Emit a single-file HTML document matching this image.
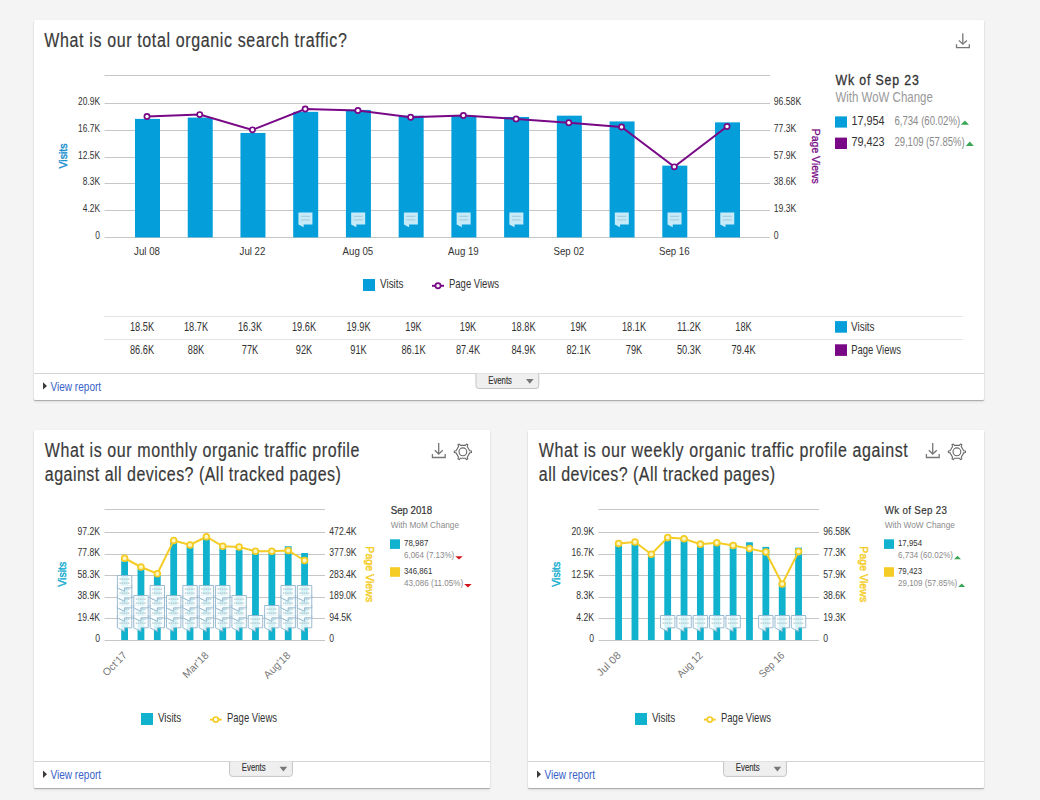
<!DOCTYPE html><html><head><meta charset="utf-8"><style>
html,body{margin:0;padding:0;background:#f4f4f4;width:1040px;height:800px;overflow:hidden}
.card{position:absolute;background:#fff;border-radius:1px;box-shadow:0 1px 1px rgba(0,0,0,0.26),0 2px 3px rgba(0,0,0,0.07),0 0 1px rgba(0,0,0,0.12)}
svg{position:absolute;left:0;top:0;font-family:"Liberation Sans", sans-serif}
</style></head><body>
<div class="card" style="left:34px;top:20px;width:950px;height:380px"></div>
<div class="card" style="left:34px;top:430px;width:456px;height:358px"></div>
<div class="card" style="left:528px;top:430px;width:456px;height:358px"></div>
<svg width="1040" height="800" viewBox="0 0 1040 800">
<text transform="translate(44.30,47.00) scale(0.8,1)" x="0" y="0" font-size="20" fill="#3a3a3a" font-weight="normal" stroke="#3a3a3a" stroke-width="0.2" textLength="378.12" lengthAdjust="spacing">What is our total organic search traffic?</text>
<g transform="translate(956.0,33.2) scale(1.0)" fill="none" stroke="#777" stroke-width="1.3"><path d="M6.8 0 V10.8"/><path d="M2.9 7.2 L6.8 11 L10.9 7.2"/><path d="M0.5 11.0 V14.5 H13.3 V11.0"/></g>
<line x1="104.5" y1="75.5" x2="770.0" y2="75.5" stroke="#c6c6c6" stroke-width="1"/>
<line x1="104.5" y1="237.5" x2="770.0" y2="237.5" stroke="#c6c6c6" stroke-width="1"/>
<text x="95.33" y="239.00" font-size="11.5" fill="#333" font-weight="normal" textLength="4.67" lengthAdjust="spacingAndGlyphs">0</text>
<text x="773.80" y="239.00" font-size="11.5" fill="#333" font-weight="normal" textLength="4.80" lengthAdjust="spacingAndGlyphs">0</text>
<line x1="104.5" y1="210.5" x2="770.0" y2="210.5" stroke="#c6c6c6" stroke-width="1"/>
<text x="82.73" y="212.22" font-size="11.5" fill="#333" font-weight="normal" textLength="17.27" lengthAdjust="spacingAndGlyphs">4.2K</text>
<text x="773.80" y="212.22" font-size="11.5" fill="#333" font-weight="normal" textLength="22.54" lengthAdjust="spacingAndGlyphs">19.3K</text>
<line x1="104.5" y1="183.5" x2="770.0" y2="183.5" stroke="#c6c6c6" stroke-width="1"/>
<text x="82.73" y="185.44" font-size="11.5" fill="#333" font-weight="normal" textLength="17.27" lengthAdjust="spacingAndGlyphs">8.3K</text>
<text x="773.80" y="185.44" font-size="11.5" fill="#333" font-weight="normal" textLength="22.54" lengthAdjust="spacingAndGlyphs">38.6K</text>
<line x1="104.5" y1="157.5" x2="770.0" y2="157.5" stroke="#c6c6c6" stroke-width="1"/>
<text x="78.06" y="158.66" font-size="11.5" fill="#333" font-weight="normal" textLength="21.94" lengthAdjust="spacingAndGlyphs">12.5K</text>
<text x="773.80" y="158.66" font-size="11.5" fill="#333" font-weight="normal" textLength="22.54" lengthAdjust="spacingAndGlyphs">57.9K</text>
<line x1="104.5" y1="130.5" x2="770.0" y2="130.5" stroke="#c6c6c6" stroke-width="1"/>
<text x="78.06" y="131.88" font-size="11.5" fill="#333" font-weight="normal" textLength="21.94" lengthAdjust="spacingAndGlyphs">16.7K</text>
<text x="773.80" y="131.88" font-size="11.5" fill="#333" font-weight="normal" textLength="22.54" lengthAdjust="spacingAndGlyphs">77.3K</text>
<line x1="104.5" y1="103.5" x2="770.0" y2="103.5" stroke="#c6c6c6" stroke-width="1"/>
<text x="78.06" y="105.10" font-size="11.5" fill="#333" font-weight="normal" textLength="21.94" lengthAdjust="spacingAndGlyphs">20.9K</text>
<text x="773.80" y="105.10" font-size="11.5" fill="#333" font-weight="normal" textLength="27.34" lengthAdjust="spacingAndGlyphs">96.58K</text>
<rect x="135.00" y="118.88" width="25" height="118.52" fill="#049edb"/>
<rect x="187.73" y="117.59" width="25" height="119.81" fill="#049edb"/>
<rect x="240.46" y="132.97" width="25" height="104.43" fill="#049edb"/>
<rect x="293.19" y="111.83" width="25" height="125.57" fill="#049edb"/>
<rect x="345.92" y="109.91" width="25" height="127.49" fill="#049edb"/>
<rect x="398.65" y="115.67" width="25" height="121.73" fill="#049edb"/>
<rect x="451.38" y="115.67" width="25" height="121.73" fill="#049edb"/>
<rect x="504.11" y="116.95" width="25" height="120.45" fill="#049edb"/>
<rect x="556.84" y="115.67" width="25" height="121.73" fill="#049edb"/>
<rect x="609.57" y="121.44" width="25" height="115.96" fill="#049edb"/>
<rect x="662.30" y="165.64" width="25" height="71.76" fill="#049edb"/>
<rect x="715.03" y="122.37" width="25" height="115.03" fill="#049edb"/>
<g opacity="1.0"><path d="M298.44 212.5 h14 v12 h-8.8 v2.8 l-5.2 -2.8 z" fill="#c6eaf8"/><path d="M300.94 216.34 h9 M300.94 219.94 h9" stroke="#a9cfe0" stroke-width="1.2"/></g>
<g opacity="1.0"><path d="M351.16999999999996 212.5 h14 v12 h-8.8 v2.8 l-5.2 -2.8 z" fill="#c6eaf8"/><path d="M353.66999999999996 216.34 h9 M353.66999999999996 219.94 h9" stroke="#a9cfe0" stroke-width="1.2"/></g>
<g opacity="1.0"><path d="M403.9 212.5 h14 v12 h-8.8 v2.8 l-5.2 -2.8 z" fill="#c6eaf8"/><path d="M406.4 216.34 h9 M406.4 219.94 h9" stroke="#a9cfe0" stroke-width="1.2"/></g>
<g opacity="1.0"><path d="M456.63 212.5 h14 v12 h-8.8 v2.8 l-5.2 -2.8 z" fill="#c6eaf8"/><path d="M459.13 216.34 h9 M459.13 219.94 h9" stroke="#a9cfe0" stroke-width="1.2"/></g>
<g opacity="1.0"><path d="M509.3599999999999 212.5 h14 v12 h-8.8 v2.8 l-5.2 -2.8 z" fill="#c6eaf8"/><path d="M511.8599999999999 216.34 h9 M511.8599999999999 219.94 h9" stroke="#a9cfe0" stroke-width="1.2"/></g>
<g opacity="1.0"><path d="M614.8199999999999 212.5 h14 v12 h-8.8 v2.8 l-5.2 -2.8 z" fill="#c6eaf8"/><path d="M617.3199999999999 216.34 h9 M617.3199999999999 219.94 h9" stroke="#a9cfe0" stroke-width="1.2"/></g>
<g opacity="1.0"><path d="M667.55 212.5 h14 v12 h-8.8 v2.8 l-5.2 -2.8 z" fill="#c6eaf8"/><path d="M670.05 216.34 h9 M670.05 219.94 h9" stroke="#a9cfe0" stroke-width="1.2"/></g>
<g opacity="1.0"><path d="M720.28 212.5 h14 v12 h-8.8 v2.8 l-5.2 -2.8 z" fill="#c6eaf8"/><path d="M722.78 216.34 h9 M722.78 219.94 h9" stroke="#a9cfe0" stroke-width="1.2"/></g>
<polyline points="147.00,116.54 199.73,114.60 252.46,129.85 305.19,109.05 357.92,110.44 410.65,117.23 463.38,115.43 516.11,118.89 568.84,122.78 621.57,127.07 674.30,166.86 727.03,126.52" fill="none" stroke="#780886" stroke-width="2"/>
<circle cx="147.00" cy="116.54" r="2.6" fill="#fff" stroke="#780886" stroke-width="1.7"/>
<circle cx="199.73" cy="114.60" r="2.6" fill="#fff" stroke="#780886" stroke-width="1.7"/>
<circle cx="252.46" cy="129.85" r="2.6" fill="#fff" stroke="#780886" stroke-width="1.7"/>
<circle cx="305.19" cy="109.05" r="2.6" fill="#fff" stroke="#780886" stroke-width="1.7"/>
<circle cx="357.92" cy="110.44" r="2.6" fill="#fff" stroke="#780886" stroke-width="1.7"/>
<circle cx="410.65" cy="117.23" r="2.6" fill="#fff" stroke="#780886" stroke-width="1.7"/>
<circle cx="463.38" cy="115.43" r="2.6" fill="#fff" stroke="#780886" stroke-width="1.7"/>
<circle cx="516.11" cy="118.89" r="2.6" fill="#fff" stroke="#780886" stroke-width="1.7"/>
<circle cx="568.84" cy="122.78" r="2.6" fill="#fff" stroke="#780886" stroke-width="1.7"/>
<circle cx="621.57" cy="127.07" r="2.6" fill="#fff" stroke="#780886" stroke-width="1.7"/>
<circle cx="674.30" cy="166.86" r="2.6" fill="#fff" stroke="#780886" stroke-width="1.7"/>
<circle cx="727.03" cy="126.52" r="2.6" fill="#fff" stroke="#780886" stroke-width="1.7"/>
<g transform="translate(66.5,156) rotate(-90)"><text x="-12.50" y="0.00" font-size="11.5" fill="#2090d0" font-weight="normal" stroke="#2090d0" stroke-width="0.45" textLength="25.00" lengthAdjust="spacingAndGlyphs">Visits</text></g>
<g transform="translate(811.5,156.3) rotate(90)"><text x="-27.50" y="0.00" font-size="11.5" fill="#780886" font-weight="normal" stroke="#780886" stroke-width="0.3" textLength="55.00" lengthAdjust="spacingAndGlyphs">Page Views</text></g>
<text x="134.09" y="254.60" font-size="11.8" fill="#333" font-weight="normal" textLength="25.82" lengthAdjust="spacingAndGlyphs">Jul 08</text>
<text x="239.55" y="254.60" font-size="11.8" fill="#333" font-weight="normal" textLength="25.82" lengthAdjust="spacingAndGlyphs">Jul 22</text>
<text x="342.59" y="254.60" font-size="11.8" fill="#333" font-weight="normal" textLength="30.67" lengthAdjust="spacingAndGlyphs">Aug 05</text>
<text x="448.05" y="254.60" font-size="11.8" fill="#333" font-weight="normal" textLength="30.67" lengthAdjust="spacingAndGlyphs">Aug 19</text>
<text x="553.51" y="254.60" font-size="11.8" fill="#333" font-weight="normal" textLength="30.67" lengthAdjust="spacingAndGlyphs">Sep 02</text>
<text x="658.97" y="254.60" font-size="11.8" fill="#333" font-weight="normal" textLength="30.67" lengthAdjust="spacingAndGlyphs">Sep 16</text>
<rect x="363" y="279" width="12" height="12" fill="#049edb"/>
<text x="380.00" y="288.20" font-size="12.2" fill="#333" font-weight="normal" textLength="23.50" lengthAdjust="spacingAndGlyphs">Visits</text>
<line x1="432" y1="285.8" x2="444" y2="285.8" stroke="#780886" stroke-width="2"/>
<circle cx="438" cy="285.8" r="2.6" fill="#fff" stroke="#780886" stroke-width="1.7"/>
<text x="449.00" y="288.20" font-size="12.2" fill="#333" font-weight="normal" textLength="50.00" lengthAdjust="spacingAndGlyphs">Page Views</text>
<line x1="104" y1="316.5" x2="963" y2="316.5" stroke="#e2e2e2" stroke-width="1"/>
<line x1="104" y1="339.5" x2="963" y2="339.5" stroke="#e2e2e2" stroke-width="1"/>
<text x="129.96" y="331.20" font-size="12.8" fill="#333" font-weight="normal" textLength="24.08" lengthAdjust="spacingAndGlyphs">18.5K</text>
<text x="129.96" y="354.00" font-size="12.8" fill="#333" font-weight="normal" textLength="24.08" lengthAdjust="spacingAndGlyphs">86.6K</text>
<text x="183.96" y="331.20" font-size="12.8" fill="#333" font-weight="normal" textLength="24.08" lengthAdjust="spacingAndGlyphs">18.7K</text>
<text x="187.80" y="354.00" font-size="12.8" fill="#333" font-weight="normal" textLength="16.40" lengthAdjust="spacingAndGlyphs">88K</text>
<text x="237.96" y="331.20" font-size="12.8" fill="#333" font-weight="normal" textLength="24.08" lengthAdjust="spacingAndGlyphs">16.3K</text>
<text x="241.80" y="354.00" font-size="12.8" fill="#333" font-weight="normal" textLength="16.40" lengthAdjust="spacingAndGlyphs">77K</text>
<text x="291.96" y="331.20" font-size="12.8" fill="#333" font-weight="normal" textLength="24.08" lengthAdjust="spacingAndGlyphs">19.6K</text>
<text x="295.80" y="354.00" font-size="12.8" fill="#333" font-weight="normal" textLength="16.40" lengthAdjust="spacingAndGlyphs">92K</text>
<text x="346.46" y="331.20" font-size="12.8" fill="#333" font-weight="normal" textLength="24.08" lengthAdjust="spacingAndGlyphs">19.9K</text>
<text x="350.30" y="354.00" font-size="12.8" fill="#333" font-weight="normal" textLength="16.40" lengthAdjust="spacingAndGlyphs">91K</text>
<text x="405.30" y="331.20" font-size="12.8" fill="#333" font-weight="normal" textLength="16.40" lengthAdjust="spacingAndGlyphs">19K</text>
<text x="401.46" y="354.00" font-size="12.8" fill="#333" font-weight="normal" textLength="24.08" lengthAdjust="spacingAndGlyphs">86.1K</text>
<text x="459.80" y="331.20" font-size="12.8" fill="#333" font-weight="normal" textLength="16.40" lengthAdjust="spacingAndGlyphs">19K</text>
<text x="455.96" y="354.00" font-size="12.8" fill="#333" font-weight="normal" textLength="24.08" lengthAdjust="spacingAndGlyphs">87.4K</text>
<text x="511.46" y="331.20" font-size="12.8" fill="#333" font-weight="normal" textLength="24.08" lengthAdjust="spacingAndGlyphs">18.8K</text>
<text x="511.46" y="354.00" font-size="12.8" fill="#333" font-weight="normal" textLength="24.08" lengthAdjust="spacingAndGlyphs">84.9K</text>
<text x="570.30" y="331.20" font-size="12.8" fill="#333" font-weight="normal" textLength="16.40" lengthAdjust="spacingAndGlyphs">19K</text>
<text x="566.46" y="354.00" font-size="12.8" fill="#333" font-weight="normal" textLength="24.08" lengthAdjust="spacingAndGlyphs">82.1K</text>
<text x="621.96" y="331.20" font-size="12.8" fill="#333" font-weight="normal" textLength="24.08" lengthAdjust="spacingAndGlyphs">18.1K</text>
<text x="625.80" y="354.00" font-size="12.8" fill="#333" font-weight="normal" textLength="16.40" lengthAdjust="spacingAndGlyphs">79K</text>
<text x="676.96" y="331.20" font-size="12.8" fill="#333" font-weight="normal" textLength="24.08" lengthAdjust="spacingAndGlyphs">11.2K</text>
<text x="676.96" y="354.00" font-size="12.8" fill="#333" font-weight="normal" textLength="24.08" lengthAdjust="spacingAndGlyphs">50.3K</text>
<text x="735.30" y="331.20" font-size="12.8" fill="#333" font-weight="normal" textLength="16.40" lengthAdjust="spacingAndGlyphs">18K</text>
<text x="731.46" y="354.00" font-size="12.8" fill="#333" font-weight="normal" textLength="24.08" lengthAdjust="spacingAndGlyphs">79.4K</text>
<rect x="835" y="321.1" width="12" height="11.6" fill="#049edb"/>
<text x="851.00" y="330.80" font-size="13" fill="#333" font-weight="normal" textLength="23.60" lengthAdjust="spacingAndGlyphs">Visits</text>
<rect x="835" y="344.3" width="12" height="11.6" fill="#780886"/>
<text x="851.30" y="354.00" font-size="13" fill="#333" font-weight="normal" textLength="49.60" lengthAdjust="spacingAndGlyphs">Page Views</text>
<text transform="translate(835.50,84.50) scale(0.85,1)" x="0" y="0" font-size="14.5" fill="#333" font-weight="normal" stroke="#333" stroke-width="0.3" textLength="98.12" lengthAdjust="spacing">Wk of Sep 23</text>
<text x="835.50" y="101.70" font-size="14.5" fill="#999" font-weight="normal" textLength="97.30" lengthAdjust="spacingAndGlyphs">With WoW Change</text>
<rect x="835" y="116.4" width="12" height="11.2" fill="#049edb"/>
<text x="851.40" y="124.80" font-size="13" fill="#333" font-weight="normal" textLength="33.20" lengthAdjust="spacingAndGlyphs">17,954</text>
<text x="894.40" y="124.80" font-size="12" fill="#8a8a8a" font-weight="normal" textLength="65.80" lengthAdjust="spacingAndGlyphs">6,734 (60.02%)</text>
<path d="M960.8 124.8 L964.9 120.4 L969.0 124.8 Z" fill="#3aa655"/>
<rect x="835" y="137.6" width="12" height="11.4" fill="#780886"/>
<text x="851.40" y="146.00" font-size="13" fill="#333" font-weight="normal" textLength="33.20" lengthAdjust="spacingAndGlyphs">79,423</text>
<text x="894.40" y="146.00" font-size="12" fill="#8a8a8a" font-weight="normal" textLength="70.30" lengthAdjust="spacingAndGlyphs">29,109 (57.85%)</text>
<path d="M965.8 146.0 L969.8 141.6 L973.8 146.0 Z" fill="#3aa655"/>
<line x1="34" y1="373.5" x2="984" y2="373.5" stroke="#d4d4d4" stroke-width="1"/>
<path d="M43.0 382.2 L47.0 385.9 L43.0 389.6 Z" fill="#3a3a3a"/><text x="50.50" y="390.50" font-size="12.5" fill="#3862c8" font-weight="normal" textLength="50.60" lengthAdjust="spacingAndGlyphs">View report</text>
<path d="M476.0 373.5 V385.7 Q476.0 388.5 478.8 388.5 H536.0 Q538.8 388.5 538.8 385.7 V373.5" fill="#efefef" stroke="#c4c4c4" stroke-width="1"/><text x="488.20" y="383.50" font-size="10.2" fill="#333" font-weight="normal" stroke="#333" stroke-width="0.15" textLength="23.80" lengthAdjust="spacingAndGlyphs">Events</text><path d="M526.0 378.9 H533.6 L529.8 383.7 Z" fill="#777"/>
<text transform="translate(44.80,456.70) scale(0.8,1)" x="0" y="0" font-size="20" fill="#3a3a3a" font-weight="normal" stroke="#3a3a3a" stroke-width="0.2" textLength="393.25" lengthAdjust="spacing">What is our monthly organic traffic profile</text>
<text transform="translate(44.80,481.00) scale(0.8,1)" x="0" y="0" font-size="20" fill="#3a3a3a" font-weight="normal" stroke="#3a3a3a" stroke-width="0.2" textLength="370.12" lengthAdjust="spacing">against all devices? (All tracked pages)</text>
<g transform="translate(431.9,443.0) scale(1.0)" fill="none" stroke="#777" stroke-width="1.3"><path d="M6.8 0 V10.8"/><path d="M2.9 7.2 L6.8 11 L10.9 7.2"/><path d="M0.5 11.0 V14.5 H13.3 V11.0"/></g>
<g fill="none" stroke="#666" stroke-width="1.1" stroke-linejoin="round"><path d="M471.47 451.05 L471.47 452.55 L469.72 452.88 L467.24 457.16 L467.83 458.84 L466.53 459.59 L465.37 458.24 L460.43 458.24 L459.27 459.59 L457.97 458.84 L458.56 457.16 L456.08 452.88 L454.33 452.55 L454.33 451.05 L456.08 450.72 L458.56 446.44 L457.97 444.76 L459.27 444.01 L460.43 445.36 L465.37 445.36 L466.53 444.01 L467.83 444.76 L467.24 446.44 L469.72 450.72 Z"/><circle cx="462.9" cy="451.8" r="3.9"/></g>
<line x1="104.5" y1="509.5" x2="325.0" y2="509.5" stroke="#c6c6c6" stroke-width="1"/>
<line x1="104.5" y1="640.5" x2="325.0" y2="640.5" stroke="#c6c6c6" stroke-width="1"/>
<text x="95.20" y="642.30" font-size="11.2" fill="#333" font-weight="normal" textLength="4.80" lengthAdjust="spacingAndGlyphs">0</text>
<text x="329.30" y="642.30" font-size="11.2" fill="#333" font-weight="normal" textLength="4.80" lengthAdjust="spacingAndGlyphs">0</text>
<line x1="104.5" y1="618.5" x2="325.0" y2="618.5" stroke="#c6c6c6" stroke-width="1"/>
<text x="77.46" y="620.80" font-size="11.2" fill="#333" font-weight="normal" textLength="22.54" lengthAdjust="spacingAndGlyphs">19.4K</text>
<text x="329.30" y="620.80" font-size="11.2" fill="#333" font-weight="normal" textLength="22.54" lengthAdjust="spacingAndGlyphs">94.5K</text>
<line x1="104.5" y1="597.5" x2="325.0" y2="597.5" stroke="#c6c6c6" stroke-width="1"/>
<text x="77.46" y="599.30" font-size="11.2" fill="#333" font-weight="normal" textLength="22.54" lengthAdjust="spacingAndGlyphs">38.9K</text>
<text x="329.30" y="599.30" font-size="11.2" fill="#333" font-weight="normal" textLength="27.33" lengthAdjust="spacingAndGlyphs">189.0K</text>
<line x1="104.5" y1="575.5" x2="325.0" y2="575.5" stroke="#c6c6c6" stroke-width="1"/>
<text x="77.46" y="577.80" font-size="11.2" fill="#333" font-weight="normal" textLength="22.54" lengthAdjust="spacingAndGlyphs">58.3K</text>
<text x="329.30" y="577.80" font-size="11.2" fill="#333" font-weight="normal" textLength="27.33" lengthAdjust="spacingAndGlyphs">283.4K</text>
<line x1="104.5" y1="554.5" x2="325.0" y2="554.5" stroke="#c6c6c6" stroke-width="1"/>
<text x="77.46" y="556.30" font-size="11.2" fill="#333" font-weight="normal" textLength="22.54" lengthAdjust="spacingAndGlyphs">77.8K</text>
<text x="329.30" y="556.30" font-size="11.2" fill="#333" font-weight="normal" textLength="27.33" lengthAdjust="spacingAndGlyphs">377.9K</text>
<line x1="104.5" y1="532.5" x2="325.0" y2="532.5" stroke="#c6c6c6" stroke-width="1"/>
<text x="77.46" y="534.80" font-size="11.2" fill="#333" font-weight="normal" textLength="22.54" lengthAdjust="spacingAndGlyphs">97.2K</text>
<text x="329.30" y="534.80" font-size="11.2" fill="#333" font-weight="normal" textLength="27.33" lengthAdjust="spacingAndGlyphs">472.4K</text>
<rect x="121.20" y="561.25" width="6.8" height="78.75" fill="#10b2cd"/>
<rect x="137.56" y="568.75" width="6.8" height="71.25" fill="#10b2cd"/>
<rect x="153.92" y="575.00" width="6.8" height="65.00" fill="#10b2cd"/>
<rect x="170.28" y="542.50" width="6.8" height="97.50" fill="#10b2cd"/>
<rect x="186.64" y="546.25" width="6.8" height="93.75" fill="#10b2cd"/>
<rect x="203.00" y="538.75" width="6.8" height="101.25" fill="#10b2cd"/>
<rect x="219.36" y="547.50" width="6.8" height="92.50" fill="#10b2cd"/>
<rect x="235.72" y="550.00" width="6.8" height="90.00" fill="#10b2cd"/>
<rect x="252.08" y="553.00" width="6.8" height="87.00" fill="#10b2cd"/>
<rect x="268.44" y="553.00" width="6.8" height="87.00" fill="#10b2cd"/>
<rect x="284.80" y="546.25" width="6.8" height="93.75" fill="#10b2cd"/>
<rect x="301.16" y="553.00" width="6.8" height="87.00" fill="#10b2cd"/>
<g><path d="M117.40 615.50 h14.4 v12.3 h-7.2 v3.6 l-7.2 -3.6 z" fill="#fdffff" fill-opacity="0.84" stroke="#8fb3cc" stroke-width="0.9"/><path d="M119.40 619.10 h10.6 M119.40 623.10 h10.6" stroke="#b4c8d0" stroke-width="1.1" stroke-dasharray="1.5 0.6"/></g>
<g><path d="M117.40 605.50 h14.4 v12.3 h-7.2 v3.6 l-7.2 -3.6 z" fill="#fdffff" fill-opacity="0.84" stroke="#8fb3cc" stroke-width="0.9"/><path d="M119.40 609.10 h10.6 M119.40 613.10 h10.6" stroke="#b4c8d0" stroke-width="1.1" stroke-dasharray="1.5 0.6"/></g>
<g><path d="M117.40 595.50 h14.4 v12.3 h-7.2 v3.6 l-7.2 -3.6 z" fill="#fdffff" fill-opacity="0.84" stroke="#8fb3cc" stroke-width="0.9"/><path d="M119.40 599.10 h10.6 M119.40 603.10 h10.6" stroke="#b4c8d0" stroke-width="1.1" stroke-dasharray="1.5 0.6"/></g>
<g><path d="M117.40 585.50 h14.4 v12.3 h-7.2 v3.6 l-7.2 -3.6 z" fill="#fdffff" fill-opacity="0.84" stroke="#8fb3cc" stroke-width="0.9"/><path d="M119.40 589.10 h10.6 M119.40 593.10 h10.6" stroke="#b4c8d0" stroke-width="1.1" stroke-dasharray="1.5 0.6"/></g>
<g><path d="M117.40 575.50 h14.4 v12.3 h-7.2 v3.6 l-7.2 -3.6 z" fill="#fdffff" fill-opacity="0.84" stroke="#8fb3cc" stroke-width="0.9"/><path d="M119.40 579.10 h10.6 M119.40 583.10 h10.6" stroke="#b4c8d0" stroke-width="1.1" stroke-dasharray="1.5 0.6"/></g>
<g><path d="M133.76 615.50 h14.4 v12.3 h-7.2 v3.6 l-7.2 -3.6 z" fill="#fdffff" fill-opacity="0.84" stroke="#8fb3cc" stroke-width="0.9"/><path d="M135.76 619.10 h10.6 M135.76 623.10 h10.6" stroke="#b4c8d0" stroke-width="1.1" stroke-dasharray="1.5 0.6"/></g>
<g><path d="M133.76 605.50 h14.4 v12.3 h-7.2 v3.6 l-7.2 -3.6 z" fill="#fdffff" fill-opacity="0.84" stroke="#8fb3cc" stroke-width="0.9"/><path d="M135.76 609.10 h10.6 M135.76 613.10 h10.6" stroke="#b4c8d0" stroke-width="1.1" stroke-dasharray="1.5 0.6"/></g>
<g><path d="M133.76 595.50 h14.4 v12.3 h-7.2 v3.6 l-7.2 -3.6 z" fill="#fdffff" fill-opacity="0.84" stroke="#8fb3cc" stroke-width="0.9"/><path d="M135.76 599.10 h10.6 M135.76 603.10 h10.6" stroke="#b4c8d0" stroke-width="1.1" stroke-dasharray="1.5 0.6"/></g>
<g><path d="M150.12 615.50 h14.4 v12.3 h-7.2 v3.6 l-7.2 -3.6 z" fill="#fdffff" fill-opacity="0.84" stroke="#8fb3cc" stroke-width="0.9"/><path d="M152.12 619.10 h10.6 M152.12 623.10 h10.6" stroke="#b4c8d0" stroke-width="1.1" stroke-dasharray="1.5 0.6"/></g>
<g><path d="M150.12 605.50 h14.4 v12.3 h-7.2 v3.6 l-7.2 -3.6 z" fill="#fdffff" fill-opacity="0.84" stroke="#8fb3cc" stroke-width="0.9"/><path d="M152.12 609.10 h10.6 M152.12 613.10 h10.6" stroke="#b4c8d0" stroke-width="1.1" stroke-dasharray="1.5 0.6"/></g>
<g><path d="M150.12 595.50 h14.4 v12.3 h-7.2 v3.6 l-7.2 -3.6 z" fill="#fdffff" fill-opacity="0.84" stroke="#8fb3cc" stroke-width="0.9"/><path d="M152.12 599.10 h10.6 M152.12 603.10 h10.6" stroke="#b4c8d0" stroke-width="1.1" stroke-dasharray="1.5 0.6"/></g>
<g><path d="M150.12 585.50 h14.4 v12.3 h-7.2 v3.6 l-7.2 -3.6 z" fill="#fdffff" fill-opacity="0.84" stroke="#8fb3cc" stroke-width="0.9"/><path d="M152.12 589.10 h10.6 M152.12 593.10 h10.6" stroke="#b4c8d0" stroke-width="1.1" stroke-dasharray="1.5 0.6"/></g>
<g><path d="M166.48 615.50 h14.4 v12.3 h-7.2 v3.6 l-7.2 -3.6 z" fill="#fdffff" fill-opacity="0.84" stroke="#8fb3cc" stroke-width="0.9"/><path d="M168.48 619.10 h10.6 M168.48 623.10 h10.6" stroke="#b4c8d0" stroke-width="1.1" stroke-dasharray="1.5 0.6"/></g>
<g><path d="M166.48 605.50 h14.4 v12.3 h-7.2 v3.6 l-7.2 -3.6 z" fill="#fdffff" fill-opacity="0.84" stroke="#8fb3cc" stroke-width="0.9"/><path d="M168.48 609.10 h10.6 M168.48 613.10 h10.6" stroke="#b4c8d0" stroke-width="1.1" stroke-dasharray="1.5 0.6"/></g>
<g><path d="M166.48 595.50 h14.4 v12.3 h-7.2 v3.6 l-7.2 -3.6 z" fill="#fdffff" fill-opacity="0.84" stroke="#8fb3cc" stroke-width="0.9"/><path d="M168.48 599.10 h10.6 M168.48 603.10 h10.6" stroke="#b4c8d0" stroke-width="1.1" stroke-dasharray="1.5 0.6"/></g>
<g><path d="M182.84 615.50 h14.4 v12.3 h-7.2 v3.6 l-7.2 -3.6 z" fill="#fdffff" fill-opacity="0.84" stroke="#8fb3cc" stroke-width="0.9"/><path d="M184.84 619.10 h10.6 M184.84 623.10 h10.6" stroke="#b4c8d0" stroke-width="1.1" stroke-dasharray="1.5 0.6"/></g>
<g><path d="M182.84 605.50 h14.4 v12.3 h-7.2 v3.6 l-7.2 -3.6 z" fill="#fdffff" fill-opacity="0.84" stroke="#8fb3cc" stroke-width="0.9"/><path d="M184.84 609.10 h10.6 M184.84 613.10 h10.6" stroke="#b4c8d0" stroke-width="1.1" stroke-dasharray="1.5 0.6"/></g>
<g><path d="M182.84 595.50 h14.4 v12.3 h-7.2 v3.6 l-7.2 -3.6 z" fill="#fdffff" fill-opacity="0.84" stroke="#8fb3cc" stroke-width="0.9"/><path d="M184.84 599.10 h10.6 M184.84 603.10 h10.6" stroke="#b4c8d0" stroke-width="1.1" stroke-dasharray="1.5 0.6"/></g>
<g><path d="M182.84 585.50 h14.4 v12.3 h-7.2 v3.6 l-7.2 -3.6 z" fill="#fdffff" fill-opacity="0.84" stroke="#8fb3cc" stroke-width="0.9"/><path d="M184.84 589.10 h10.6 M184.84 593.10 h10.6" stroke="#b4c8d0" stroke-width="1.1" stroke-dasharray="1.5 0.6"/></g>
<g><path d="M199.20 615.50 h14.4 v12.3 h-7.2 v3.6 l-7.2 -3.6 z" fill="#fdffff" fill-opacity="0.84" stroke="#8fb3cc" stroke-width="0.9"/><path d="M201.20 619.10 h10.6 M201.20 623.10 h10.6" stroke="#b4c8d0" stroke-width="1.1" stroke-dasharray="1.5 0.6"/></g>
<g><path d="M199.20 605.50 h14.4 v12.3 h-7.2 v3.6 l-7.2 -3.6 z" fill="#fdffff" fill-opacity="0.84" stroke="#8fb3cc" stroke-width="0.9"/><path d="M201.20 609.10 h10.6 M201.20 613.10 h10.6" stroke="#b4c8d0" stroke-width="1.1" stroke-dasharray="1.5 0.6"/></g>
<g><path d="M199.20 595.50 h14.4 v12.3 h-7.2 v3.6 l-7.2 -3.6 z" fill="#fdffff" fill-opacity="0.84" stroke="#8fb3cc" stroke-width="0.9"/><path d="M201.20 599.10 h10.6 M201.20 603.10 h10.6" stroke="#b4c8d0" stroke-width="1.1" stroke-dasharray="1.5 0.6"/></g>
<g><path d="M199.20 585.50 h14.4 v12.3 h-7.2 v3.6 l-7.2 -3.6 z" fill="#fdffff" fill-opacity="0.84" stroke="#8fb3cc" stroke-width="0.9"/><path d="M201.20 589.10 h10.6 M201.20 593.10 h10.6" stroke="#b4c8d0" stroke-width="1.1" stroke-dasharray="1.5 0.6"/></g>
<g><path d="M215.56 615.50 h14.4 v12.3 h-7.2 v3.6 l-7.2 -3.6 z" fill="#fdffff" fill-opacity="0.84" stroke="#8fb3cc" stroke-width="0.9"/><path d="M217.56 619.10 h10.6 M217.56 623.10 h10.6" stroke="#b4c8d0" stroke-width="1.1" stroke-dasharray="1.5 0.6"/></g>
<g><path d="M215.56 605.50 h14.4 v12.3 h-7.2 v3.6 l-7.2 -3.6 z" fill="#fdffff" fill-opacity="0.84" stroke="#8fb3cc" stroke-width="0.9"/><path d="M217.56 609.10 h10.6 M217.56 613.10 h10.6" stroke="#b4c8d0" stroke-width="1.1" stroke-dasharray="1.5 0.6"/></g>
<g><path d="M215.56 595.50 h14.4 v12.3 h-7.2 v3.6 l-7.2 -3.6 z" fill="#fdffff" fill-opacity="0.84" stroke="#8fb3cc" stroke-width="0.9"/><path d="M217.56 599.10 h10.6 M217.56 603.10 h10.6" stroke="#b4c8d0" stroke-width="1.1" stroke-dasharray="1.5 0.6"/></g>
<g><path d="M215.56 585.50 h14.4 v12.3 h-7.2 v3.6 l-7.2 -3.6 z" fill="#fdffff" fill-opacity="0.84" stroke="#8fb3cc" stroke-width="0.9"/><path d="M217.56 589.10 h10.6 M217.56 593.10 h10.6" stroke="#b4c8d0" stroke-width="1.1" stroke-dasharray="1.5 0.6"/></g>
<g><path d="M231.92 615.50 h14.4 v12.3 h-7.2 v3.6 l-7.2 -3.6 z" fill="#fdffff" fill-opacity="0.84" stroke="#8fb3cc" stroke-width="0.9"/><path d="M233.92 619.10 h10.6 M233.92 623.10 h10.6" stroke="#b4c8d0" stroke-width="1.1" stroke-dasharray="1.5 0.6"/></g>
<g><path d="M231.92 605.50 h14.4 v12.3 h-7.2 v3.6 l-7.2 -3.6 z" fill="#fdffff" fill-opacity="0.84" stroke="#8fb3cc" stroke-width="0.9"/><path d="M233.92 609.10 h10.6 M233.92 613.10 h10.6" stroke="#b4c8d0" stroke-width="1.1" stroke-dasharray="1.5 0.6"/></g>
<g><path d="M231.92 595.50 h14.4 v12.3 h-7.2 v3.6 l-7.2 -3.6 z" fill="#fdffff" fill-opacity="0.84" stroke="#8fb3cc" stroke-width="0.9"/><path d="M233.92 599.10 h10.6 M233.92 603.10 h10.6" stroke="#b4c8d0" stroke-width="1.1" stroke-dasharray="1.5 0.6"/></g>
<g><path d="M248.28 615.50 h14.4 v12.3 h-7.2 v3.6 l-7.2 -3.6 z" fill="#fdffff" fill-opacity="0.84" stroke="#8fb3cc" stroke-width="0.9"/><path d="M250.28 619.10 h10.6 M250.28 623.10 h10.6" stroke="#b4c8d0" stroke-width="1.1" stroke-dasharray="1.5 0.6"/></g>
<g><path d="M264.64 615.50 h14.4 v12.3 h-7.2 v3.6 l-7.2 -3.6 z" fill="#fdffff" fill-opacity="0.84" stroke="#8fb3cc" stroke-width="0.9"/><path d="M266.64 619.10 h10.6 M266.64 623.10 h10.6" stroke="#b4c8d0" stroke-width="1.1" stroke-dasharray="1.5 0.6"/></g>
<g><path d="M264.64 605.50 h14.4 v12.3 h-7.2 v3.6 l-7.2 -3.6 z" fill="#fdffff" fill-opacity="0.84" stroke="#8fb3cc" stroke-width="0.9"/><path d="M266.64 609.10 h10.6 M266.64 613.10 h10.6" stroke="#b4c8d0" stroke-width="1.1" stroke-dasharray="1.5 0.6"/></g>
<g><path d="M281.00 615.50 h14.4 v12.3 h-7.2 v3.6 l-7.2 -3.6 z" fill="#fdffff" fill-opacity="0.84" stroke="#8fb3cc" stroke-width="0.9"/><path d="M283.00 619.10 h10.6 M283.00 623.10 h10.6" stroke="#b4c8d0" stroke-width="1.1" stroke-dasharray="1.5 0.6"/></g>
<g><path d="M281.00 605.50 h14.4 v12.3 h-7.2 v3.6 l-7.2 -3.6 z" fill="#fdffff" fill-opacity="0.84" stroke="#8fb3cc" stroke-width="0.9"/><path d="M283.00 609.10 h10.6 M283.00 613.10 h10.6" stroke="#b4c8d0" stroke-width="1.1" stroke-dasharray="1.5 0.6"/></g>
<g><path d="M281.00 595.50 h14.4 v12.3 h-7.2 v3.6 l-7.2 -3.6 z" fill="#fdffff" fill-opacity="0.84" stroke="#8fb3cc" stroke-width="0.9"/><path d="M283.00 599.10 h10.6 M283.00 603.10 h10.6" stroke="#b4c8d0" stroke-width="1.1" stroke-dasharray="1.5 0.6"/></g>
<g><path d="M281.00 585.50 h14.4 v12.3 h-7.2 v3.6 l-7.2 -3.6 z" fill="#fdffff" fill-opacity="0.84" stroke="#8fb3cc" stroke-width="0.9"/><path d="M283.00 589.10 h10.6 M283.00 593.10 h10.6" stroke="#b4c8d0" stroke-width="1.1" stroke-dasharray="1.5 0.6"/></g>
<g><path d="M297.36 615.50 h14.4 v12.3 h-7.2 v3.6 l-7.2 -3.6 z" fill="#fdffff" fill-opacity="0.84" stroke="#8fb3cc" stroke-width="0.9"/><path d="M299.36 619.10 h10.6 M299.36 623.10 h10.6" stroke="#b4c8d0" stroke-width="1.1" stroke-dasharray="1.5 0.6"/></g>
<g><path d="M297.36 605.50 h14.4 v12.3 h-7.2 v3.6 l-7.2 -3.6 z" fill="#fdffff" fill-opacity="0.84" stroke="#8fb3cc" stroke-width="0.9"/><path d="M299.36 609.10 h10.6 M299.36 613.10 h10.6" stroke="#b4c8d0" stroke-width="1.1" stroke-dasharray="1.5 0.6"/></g>
<g><path d="M297.36 595.50 h14.4 v12.3 h-7.2 v3.6 l-7.2 -3.6 z" fill="#fdffff" fill-opacity="0.84" stroke="#8fb3cc" stroke-width="0.9"/><path d="M299.36 599.10 h10.6 M299.36 603.10 h10.6" stroke="#b4c8d0" stroke-width="1.1" stroke-dasharray="1.5 0.6"/></g>
<g><path d="M297.36 585.50 h14.4 v12.3 h-7.2 v3.6 l-7.2 -3.6 z" fill="#fdffff" fill-opacity="0.84" stroke="#8fb3cc" stroke-width="0.9"/><path d="M299.36 589.10 h10.6 M299.36 593.10 h10.6" stroke="#b4c8d0" stroke-width="1.1" stroke-dasharray="1.5 0.6"/></g>
<polyline points="124.60,558.25 140.96,567.00 157.32,573.75 173.68,540.50 190.04,545.00 206.40,536.75 222.76,546.25 239.12,547.00 255.48,551.25 271.84,551.25 288.20,550.50 304.56,560.50" fill="none" stroke="#f5cc26" stroke-width="2"/>
<circle cx="124.60" cy="558.25" r="2.9" fill="#fdf6c0" stroke="#f5cc26" stroke-width="1.8"/>
<circle cx="140.96" cy="567.00" r="2.9" fill="#fdf6c0" stroke="#f5cc26" stroke-width="1.8"/>
<circle cx="157.32" cy="573.75" r="2.9" fill="#fdf6c0" stroke="#f5cc26" stroke-width="1.8"/>
<circle cx="173.68" cy="540.50" r="2.9" fill="#fdf6c0" stroke="#f5cc26" stroke-width="1.8"/>
<circle cx="190.04" cy="545.00" r="2.9" fill="#fdf6c0" stroke="#f5cc26" stroke-width="1.8"/>
<circle cx="206.40" cy="536.75" r="2.9" fill="#fdf6c0" stroke="#f5cc26" stroke-width="1.8"/>
<circle cx="222.76" cy="546.25" r="2.9" fill="#fdf6c0" stroke="#f5cc26" stroke-width="1.8"/>
<circle cx="239.12" cy="547.00" r="2.9" fill="#fdf6c0" stroke="#f5cc26" stroke-width="1.8"/>
<circle cx="255.48" cy="551.25" r="2.9" fill="#fdf6c0" stroke="#f5cc26" stroke-width="1.8"/>
<circle cx="271.84" cy="551.25" r="2.9" fill="#fdf6c0" stroke="#f5cc26" stroke-width="1.8"/>
<circle cx="288.20" cy="550.50" r="2.9" fill="#fdf6c0" stroke="#f5cc26" stroke-width="1.8"/>
<circle cx="304.56" cy="560.50" r="2.9" fill="#fdf6c0" stroke="#f5cc26" stroke-width="1.8"/>
<g transform="translate(66.0,574.3) rotate(-90)"><text x="-12.50" y="0.00" font-size="11.5" fill="#17aecf" font-weight="normal" stroke="#17aecf" stroke-width="0.45" textLength="25.00" lengthAdjust="spacingAndGlyphs">Visits</text></g>
<g transform="translate(365.8,574.3) rotate(90)"><text x="-28.00" y="0.00" font-size="11.5" fill="#f5cc26" font-weight="normal" stroke="#f5cc26" stroke-width="0.45" textLength="56.00" lengthAdjust="spacingAndGlyphs">Page Views</text></g>
<g transform="translate(127.6,656.0) rotate(-45)"><text x="-29.50" y="0.00" font-size="10.5" fill="#777" font-weight="normal" textLength="29.50" lengthAdjust="spacingAndGlyphs">Oct'17</text></g>
<g transform="translate(209.39999999999998,656.0) rotate(-45)"><text x="-32.00" y="0.00" font-size="10.5" fill="#777" font-weight="normal" textLength="32.00" lengthAdjust="spacingAndGlyphs">Mar'18</text></g>
<g transform="translate(291.2,656.0) rotate(-45)"><text x="-33.00" y="0.00" font-size="10.5" fill="#777" font-weight="normal" textLength="33.00" lengthAdjust="spacingAndGlyphs">Aug'18</text></g>
<rect x="141" y="713" width="12" height="12" fill="#10b2cd"/>
<text x="157.90" y="722.30" font-size="12.6" fill="#333" font-weight="normal" textLength="23.40" lengthAdjust="spacingAndGlyphs">Visits</text>
<line x1="210" y1="719.6" x2="221.7" y2="719.6" stroke="#f5cc26" stroke-width="2"/>
<circle cx="215.8" cy="719.6" r="2.6" fill="#fff" stroke="#f5cc26" stroke-width="1.7"/>
<text x="227.00" y="722.30" font-size="12.6" fill="#333" font-weight="normal" textLength="50.00" lengthAdjust="spacingAndGlyphs">Page Views</text>
<text transform="translate(390.70,514.00) scale(0.85,1)" x="0" y="0" font-size="11.5" fill="#333" font-weight="normal" stroke="#333" stroke-width="0.2" textLength="48.82" lengthAdjust="spacing">Sep 2018</text>
<text x="390.70" y="528.00" font-size="9.5" fill="#8c8c8c" font-weight="normal" textLength="68.30" lengthAdjust="spacingAndGlyphs">With MoM Change</text>
<rect x="390" y="539.3" width="10" height="9.6" fill="#10b2cd"/>
<text x="404.00" y="546.20" font-size="9.5" fill="#333" font-weight="normal" textLength="24.40" lengthAdjust="spacingAndGlyphs">78,987</text>
<text x="404.00" y="558.30" font-size="9.5" fill="#8a8a8a" font-weight="normal" textLength="50.25" lengthAdjust="spacingAndGlyphs">6,064 (7.13%)</text>
<rect x="390" y="567.2" width="10" height="9.6" fill="#f5cc26"/>
<text x="404.00" y="574.10" font-size="9.5" fill="#333" font-weight="normal" textLength="28.25" lengthAdjust="spacingAndGlyphs">346,861</text>
<text x="404.00" y="586.40" font-size="9.5" fill="#8a8a8a" font-weight="normal" textLength="59.20" lengthAdjust="spacingAndGlyphs">43,086 (11.05%)</text>
<path d="M455.25 556.2 L462.75 556.2 L459.0 559.6 Z" fill="#d0161b"/>
<path d="M464.2 584.0 L471.7 584.0 L467.95 587.4 Z" fill="#d0161b"/>
<line x1="34" y1="761.5" x2="490" y2="761.5" stroke="#d4d4d4" stroke-width="1"/>
<path d="M43.0 770.5 L47.0 774.1999999999999 L43.0 777.9 Z" fill="#3a3a3a"/><text x="50.50" y="778.80" font-size="12.5" fill="#3862c8" font-weight="normal" textLength="50.60" lengthAdjust="spacingAndGlyphs">View report</text>
<path d="M229.6 761.4 V773.6 Q229.6 776.4 232.4 776.4 H289.59999999999997 Q292.4 776.4 292.4 773.6 V761.4" fill="#efefef" stroke="#c4c4c4" stroke-width="1"/><text x="241.80" y="771.40" font-size="10.2" fill="#333" font-weight="normal" stroke="#333" stroke-width="0.15" textLength="23.80" lengthAdjust="spacingAndGlyphs">Events</text><path d="M279.6 766.8 H287.2 L283.4 771.6 Z" fill="#777"/>
<text transform="translate(538.80,456.70) scale(0.8,1)" x="0" y="0" font-size="20" fill="#3a3a3a" font-weight="normal" stroke="#3a3a3a" stroke-width="0.2" textLength="461.25" lengthAdjust="spacing">What is our weekly organic traffic profile against</text>
<text transform="translate(538.80,481.00) scale(0.8,1)" x="0" y="0" font-size="20" fill="#3a3a3a" font-weight="normal" stroke="#3a3a3a" stroke-width="0.2" textLength="295.31" lengthAdjust="spacing">all devices? (All tracked pages)</text>
<g transform="translate(925.9,443.0) scale(1.0)" fill="none" stroke="#777" stroke-width="1.3"><path d="M6.8 0 V10.8"/><path d="M2.9 7.2 L6.8 11 L10.9 7.2"/><path d="M0.5 11.0 V14.5 H13.3 V11.0"/></g>
<g fill="none" stroke="#666" stroke-width="1.1" stroke-linejoin="round"><path d="M965.47 451.05 L965.47 452.55 L963.72 452.88 L961.24 457.16 L961.83 458.84 L960.53 459.59 L959.37 458.24 L954.43 458.24 L953.27 459.59 L951.97 458.84 L952.56 457.16 L950.08 452.88 L948.33 452.55 L948.33 451.05 L950.08 450.72 L952.56 446.44 L951.97 444.76 L953.27 444.01 L954.43 445.36 L959.37 445.36 L960.53 444.01 L961.83 444.76 L961.24 446.44 L963.72 450.72 Z"/><circle cx="956.9" cy="451.8" r="3.9"/></g>
<line x1="598.5" y1="509.5" x2="819.0" y2="509.5" stroke="#c6c6c6" stroke-width="1"/>
<line x1="598.5" y1="640.5" x2="819.0" y2="640.5" stroke="#c6c6c6" stroke-width="1"/>
<text x="589.20" y="642.30" font-size="11.2" fill="#333" font-weight="normal" textLength="4.80" lengthAdjust="spacingAndGlyphs">0</text>
<text x="823.30" y="642.30" font-size="11.2" fill="#333" font-weight="normal" textLength="4.80" lengthAdjust="spacingAndGlyphs">0</text>
<line x1="598.5" y1="618.5" x2="819.0" y2="618.5" stroke="#c6c6c6" stroke-width="1"/>
<text x="576.26" y="620.80" font-size="11.2" fill="#333" font-weight="normal" textLength="17.74" lengthAdjust="spacingAndGlyphs">4.2K</text>
<text x="823.30" y="620.80" font-size="11.2" fill="#333" font-weight="normal" textLength="22.54" lengthAdjust="spacingAndGlyphs">19.3K</text>
<line x1="598.5" y1="597.5" x2="819.0" y2="597.5" stroke="#c6c6c6" stroke-width="1"/>
<text x="576.26" y="599.30" font-size="11.2" fill="#333" font-weight="normal" textLength="17.74" lengthAdjust="spacingAndGlyphs">8.3K</text>
<text x="823.30" y="599.30" font-size="11.2" fill="#333" font-weight="normal" textLength="22.54" lengthAdjust="spacingAndGlyphs">38.6K</text>
<line x1="598.5" y1="575.5" x2="819.0" y2="575.5" stroke="#c6c6c6" stroke-width="1"/>
<text x="571.46" y="577.80" font-size="11.2" fill="#333" font-weight="normal" textLength="22.54" lengthAdjust="spacingAndGlyphs">12.5K</text>
<text x="823.30" y="577.80" font-size="11.2" fill="#333" font-weight="normal" textLength="22.54" lengthAdjust="spacingAndGlyphs">57.9K</text>
<line x1="598.5" y1="554.5" x2="819.0" y2="554.5" stroke="#c6c6c6" stroke-width="1"/>
<text x="571.46" y="556.30" font-size="11.2" fill="#333" font-weight="normal" textLength="22.54" lengthAdjust="spacingAndGlyphs">16.7K</text>
<text x="823.30" y="556.30" font-size="11.2" fill="#333" font-weight="normal" textLength="22.54" lengthAdjust="spacingAndGlyphs">77.3K</text>
<line x1="598.5" y1="532.5" x2="819.0" y2="532.5" stroke="#c6c6c6" stroke-width="1"/>
<text x="571.46" y="534.80" font-size="11.2" fill="#333" font-weight="normal" textLength="22.54" lengthAdjust="spacingAndGlyphs">20.9K</text>
<text x="823.30" y="534.80" font-size="11.2" fill="#333" font-weight="normal" textLength="27.33" lengthAdjust="spacingAndGlyphs">96.58K</text>
<rect x="615.20" y="544.84" width="6.8" height="95.16" fill="#10b2cd"/>
<rect x="631.56" y="543.82" width="6.8" height="96.18" fill="#10b2cd"/>
<rect x="647.92" y="556.16" width="6.8" height="83.84" fill="#10b2cd"/>
<rect x="664.28" y="539.19" width="6.8" height="100.81" fill="#10b2cd"/>
<rect x="680.64" y="537.64" width="6.8" height="102.36" fill="#10b2cd"/>
<rect x="697.00" y="542.27" width="6.8" height="97.73" fill="#10b2cd"/>
<rect x="713.36" y="542.27" width="6.8" height="97.73" fill="#10b2cd"/>
<rect x="729.72" y="543.30" width="6.8" height="96.70" fill="#10b2cd"/>
<rect x="746.08" y="542.27" width="6.8" height="97.73" fill="#10b2cd"/>
<rect x="762.44" y="546.90" width="6.8" height="93.10" fill="#10b2cd"/>
<rect x="778.80" y="582.39" width="6.8" height="57.61" fill="#10b2cd"/>
<rect x="795.16" y="547.65" width="6.8" height="92.35" fill="#10b2cd"/>
<g><path d="M660.48 615.50 h14.4 v12.3 h-7.2 v3.6 l-7.2 -3.6 z" fill="#fdffff" fill-opacity="0.84" stroke="#8fb3cc" stroke-width="0.9"/><path d="M662.48 619.10 h10.6 M662.48 623.10 h10.6" stroke="#b4c8d0" stroke-width="1.1" stroke-dasharray="1.5 0.6"/></g>
<g><path d="M676.84 615.50 h14.4 v12.3 h-7.2 v3.6 l-7.2 -3.6 z" fill="#fdffff" fill-opacity="0.84" stroke="#8fb3cc" stroke-width="0.9"/><path d="M678.84 619.10 h10.6 M678.84 623.10 h10.6" stroke="#b4c8d0" stroke-width="1.1" stroke-dasharray="1.5 0.6"/></g>
<g><path d="M693.20 615.50 h14.4 v12.3 h-7.2 v3.6 l-7.2 -3.6 z" fill="#fdffff" fill-opacity="0.84" stroke="#8fb3cc" stroke-width="0.9"/><path d="M695.20 619.10 h10.6 M695.20 623.10 h10.6" stroke="#b4c8d0" stroke-width="1.1" stroke-dasharray="1.5 0.6"/></g>
<g><path d="M709.56 615.50 h14.4 v12.3 h-7.2 v3.6 l-7.2 -3.6 z" fill="#fdffff" fill-opacity="0.84" stroke="#8fb3cc" stroke-width="0.9"/><path d="M711.56 619.10 h10.6 M711.56 623.10 h10.6" stroke="#b4c8d0" stroke-width="1.1" stroke-dasharray="1.5 0.6"/></g>
<g><path d="M725.92 615.50 h14.4 v12.3 h-7.2 v3.6 l-7.2 -3.6 z" fill="#fdffff" fill-opacity="0.84" stroke="#8fb3cc" stroke-width="0.9"/><path d="M727.92 619.10 h10.6 M727.92 623.10 h10.6" stroke="#b4c8d0" stroke-width="1.1" stroke-dasharray="1.5 0.6"/></g>
<g><path d="M758.64 615.50 h14.4 v12.3 h-7.2 v3.6 l-7.2 -3.6 z" fill="#fdffff" fill-opacity="0.84" stroke="#8fb3cc" stroke-width="0.9"/><path d="M760.64 619.10 h10.6 M760.64 623.10 h10.6" stroke="#b4c8d0" stroke-width="1.1" stroke-dasharray="1.5 0.6"/></g>
<g><path d="M775.00 615.50 h14.4 v12.3 h-7.2 v3.6 l-7.2 -3.6 z" fill="#fdffff" fill-opacity="0.84" stroke="#8fb3cc" stroke-width="0.9"/><path d="M777.00 619.10 h10.6 M777.00 623.10 h10.6" stroke="#b4c8d0" stroke-width="1.1" stroke-dasharray="1.5 0.6"/></g>
<g><path d="M791.36 615.50 h14.4 v12.3 h-7.2 v3.6 l-7.2 -3.6 z" fill="#fdffff" fill-opacity="0.84" stroke="#8fb3cc" stroke-width="0.9"/><path d="M793.36 619.10 h10.6 M793.36 623.10 h10.6" stroke="#b4c8d0" stroke-width="1.1" stroke-dasharray="1.5 0.6"/></g>
<polyline points="618.60,543.61 634.96,542.05 651.32,554.29 667.68,537.60 684.04,538.71 700.40,544.16 716.76,542.72 733.12,545.50 749.48,548.62 765.84,552.07 782.20,584.01 798.56,551.62" fill="none" stroke="#f5cc26" stroke-width="2"/>
<circle cx="618.60" cy="543.61" r="2.9" fill="#fdf6c0" stroke="#f5cc26" stroke-width="1.8"/>
<circle cx="634.96" cy="542.05" r="2.9" fill="#fdf6c0" stroke="#f5cc26" stroke-width="1.8"/>
<circle cx="651.32" cy="554.29" r="2.9" fill="#fdf6c0" stroke="#f5cc26" stroke-width="1.8"/>
<circle cx="667.68" cy="537.60" r="2.9" fill="#fdf6c0" stroke="#f5cc26" stroke-width="1.8"/>
<circle cx="684.04" cy="538.71" r="2.9" fill="#fdf6c0" stroke="#f5cc26" stroke-width="1.8"/>
<circle cx="700.40" cy="544.16" r="2.9" fill="#fdf6c0" stroke="#f5cc26" stroke-width="1.8"/>
<circle cx="716.76" cy="542.72" r="2.9" fill="#fdf6c0" stroke="#f5cc26" stroke-width="1.8"/>
<circle cx="733.12" cy="545.50" r="2.9" fill="#fdf6c0" stroke="#f5cc26" stroke-width="1.8"/>
<circle cx="749.48" cy="548.62" r="2.9" fill="#fdf6c0" stroke="#f5cc26" stroke-width="1.8"/>
<circle cx="765.84" cy="552.07" r="2.9" fill="#fdf6c0" stroke="#f5cc26" stroke-width="1.8"/>
<circle cx="782.20" cy="584.01" r="2.9" fill="#fdf6c0" stroke="#f5cc26" stroke-width="1.8"/>
<circle cx="798.56" cy="551.62" r="2.9" fill="#fdf6c0" stroke="#f5cc26" stroke-width="1.8"/>
<g transform="translate(560.0,574.3) rotate(-90)"><text x="-12.50" y="0.00" font-size="11.5" fill="#17aecf" font-weight="normal" stroke="#17aecf" stroke-width="0.45" textLength="25.00" lengthAdjust="spacingAndGlyphs">Visits</text></g>
<g transform="translate(859.8,574.3) rotate(90)"><text x="-28.00" y="0.00" font-size="11.5" fill="#f5cc26" font-weight="normal" stroke="#f5cc26" stroke-width="0.45" textLength="56.00" lengthAdjust="spacingAndGlyphs">Page Views</text></g>
<g transform="translate(621.6,656.0) rotate(-45)"><text x="-29.50" y="0.00" font-size="10.5" fill="#777" font-weight="normal" textLength="29.50" lengthAdjust="spacingAndGlyphs">Jul 08</text></g>
<g transform="translate(703.4,656.0) rotate(-45)"><text x="-31.50" y="0.00" font-size="10.5" fill="#777" font-weight="normal" textLength="31.50" lengthAdjust="spacingAndGlyphs">Aug 12</text></g>
<g transform="translate(785.2,656.0) rotate(-45)"><text x="-31.50" y="0.00" font-size="10.5" fill="#777" font-weight="normal" textLength="31.50" lengthAdjust="spacingAndGlyphs">Sep 16</text></g>
<rect x="635" y="713" width="12" height="12" fill="#10b2cd"/>
<text x="651.90" y="722.30" font-size="12.6" fill="#333" font-weight="normal" textLength="23.40" lengthAdjust="spacingAndGlyphs">Visits</text>
<line x1="704" y1="719.6" x2="715.7" y2="719.6" stroke="#f5cc26" stroke-width="2"/>
<circle cx="709.8" cy="719.6" r="2.6" fill="#fff" stroke="#f5cc26" stroke-width="1.7"/>
<text x="721.00" y="722.30" font-size="12.6" fill="#333" font-weight="normal" textLength="50.00" lengthAdjust="spacingAndGlyphs">Page Views</text>
<text transform="translate(884.70,514.00) scale(0.85,1)" x="0" y="0" font-size="11.5" fill="#333" font-weight="normal" stroke="#333" stroke-width="0.2" textLength="73.18" lengthAdjust="spacing">Wk of Sep 23</text>
<text x="884.70" y="528.00" font-size="9.5" fill="#8c8c8c" font-weight="normal" textLength="70.20" lengthAdjust="spacingAndGlyphs">With WoW Change</text>
<rect x="884" y="539.3" width="10" height="9.6" fill="#10b2cd"/>
<text x="898.00" y="546.20" font-size="9.5" fill="#333" font-weight="normal" textLength="24.00" lengthAdjust="spacingAndGlyphs">17,954</text>
<text x="898.00" y="558.30" font-size="9.5" fill="#8a8a8a" font-weight="normal" textLength="55.00" lengthAdjust="spacingAndGlyphs">6,734 (60.02%)</text>
<rect x="884" y="567.2" width="10" height="9.6" fill="#f5cc26"/>
<text x="898.00" y="574.10" font-size="9.5" fill="#333" font-weight="normal" textLength="24.00" lengthAdjust="spacingAndGlyphs">79,423</text>
<text x="898.00" y="586.40" font-size="9.5" fill="#8a8a8a" font-weight="normal" textLength="59.20" lengthAdjust="spacingAndGlyphs">29,109 (57.85%)</text>
<path d="M954 559.2 L957.5 555.8 L961 559.2 Z" fill="#3aa655"/>
<path d="M958.2 587.0 L961.7 583.6 L965.2 587.0 Z" fill="#3aa655"/>
<line x1="528" y1="761.5" x2="984" y2="761.5" stroke="#d4d4d4" stroke-width="1"/>
<path d="M537.0 770.5 L541.0 774.1999999999999 L537.0 777.9 Z" fill="#3a3a3a"/><text x="544.50" y="778.80" font-size="12.5" fill="#3862c8" font-weight="normal" textLength="50.60" lengthAdjust="spacingAndGlyphs">View report</text>
<path d="M723.6 761.4 V773.6 Q723.6 776.4 726.4 776.4 H783.6 Q786.4 776.4 786.4 773.6 V761.4" fill="#efefef" stroke="#c4c4c4" stroke-width="1"/><text x="735.80" y="771.40" font-size="10.2" fill="#333" font-weight="normal" stroke="#333" stroke-width="0.15" textLength="23.80" lengthAdjust="spacingAndGlyphs">Events</text><path d="M773.6 766.8 H781.2 L777.4 771.6 Z" fill="#777"/>
</svg></body></html>
